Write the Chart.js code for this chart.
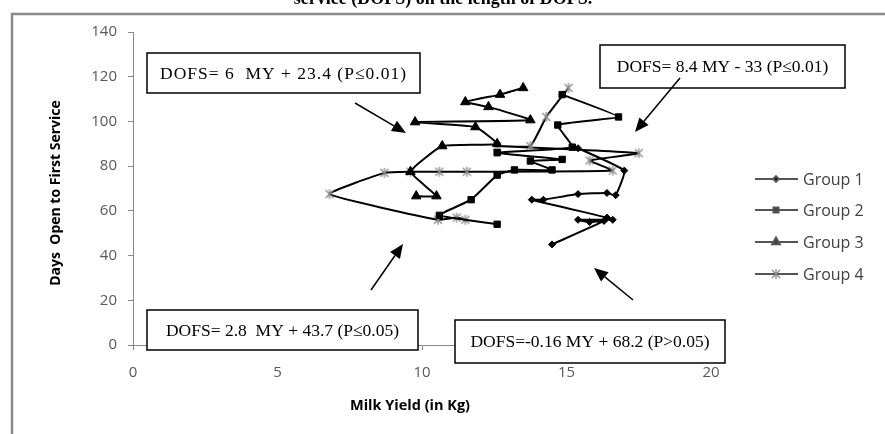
<!DOCTYPE html>
<html>
<head>
<meta charset="utf-8">
<script src="https://cdn.jsdelivr.net/npm/chart.js@4"></script>
<style>
  body { margin: 0; background: #fff; }
  canvas { display: block; }
</style>
</head>
<body>
<canvas id="dofsChart" width="885" height="434"></canvas>
<script>
// values (milk yield in kg, days open to first service)
const group1X = [15.4, 17.0, 16.7, 16.4, 15.4, 14.2, 13.8, 16.4, 16.6, 15.4, 15.8, 16.3, 14.5];
const group1Y = [88, 78, 67, 68, 67.5, 65, 65, 57, 56, 56, 55, 55.5, 45];
const group2X = [14.85, 16.8, 14.7, 15.2, 12.6, 14.85, 13.75, 14.5, 13.2, 12.6, 11.7, 10.6, 12.6];
const group2Y = [112, 102, 98.4, 88.5, 86, 83, 82.3, 78.3, 78.3, 76, 65, 58, 54];
const group3X = [13.5, 12.7, 11.5, 12.3, 13.75, 9.76, 11.85, 12.6, 10.7, 9.6, 10.5, 9.8];
const group3Y = [115, 112, 108.7, 106.5, 100.6, 99.7, 97.5, 90, 89, 77.5, 66.6, 66.6];
const group4X = [15.07, 14.3, 13.75, 12.6, 17.5, 15.8, 16.6, 11.55, 10.6, 9.6, 8.7, 6.8, 10.55, 11.2, 11.5];
const group4Y = [115, 102, 89, 89, 85.8, 82.5, 78, 77.5, 77.5, 77.5, 77, 67.5, 56, 57, 56];

const groupNames = ['Group 1', 'Group 2', 'Group 3', 'Group 4'];
const xTicks = [0, 5, 10, 15, 20];
const yTicks = [0, 20, 40, 60, 80, 100, 120, 140];

const equations = [
  'DOFS= 6  MY + 23.4 (P\u22640.01)',
  'DOFS= 8.4 MY - 33 (P\u22640.01)',
  'DOFS= 2.8  MY + 43.7 (P\u22640.05)',
  'DOFS=-0.16 MY + 68.2 (P>0.05)'
];

function toPoints(xs, ys) {
  return xs.map((x, i) => ({ x: x, y: ys[i] }));
}

// asterisk marker like the Excel one
function makeAsterisk() {
  const c = document.createElement('canvas');
  c.width = 12; c.height = 12;
  const g = c.getContext('2d');
  g.strokeStyle = '#8c8c8c';
  g.lineWidth = 1.3;
  g.beginPath();
  g.moveTo(2, 2); g.lineTo(10, 10);
  g.moveTo(10, 2); g.lineTo(2, 10);
  g.moveTo(6, 1); g.lineTo(6, 11);
  g.stroke();
  return c;
}
const asterisk = makeAsterisk();

const styles = [
  { pointStyle: 'rectRot', radius: 3.5 },
  { pointStyle: 'rect', radius: 4.5 },
  { pointStyle: 'triangle', radius: 5.5 },
  { pointStyle: asterisk, radius: 6 }
];

const series = [
  toPoints(group1X, group1Y),
  toPoints(group2X, group2Y),
  toPoints(group3X, group3Y),
  toPoints(group4X, group4Y)
];

const datasets = series.map((pts, i) => ({
  label: groupNames[i],
  data: pts,
  showLine: true,
  borderColor: '#000',
  backgroundColor: '#000',
  borderWidth: 2,
  tension: 0.12,
  pointStyle: styles[i].pointStyle,
  pointRadius: styles[i].radius,
  pointBorderWidth: 1,
  pointBorderColor: '#000',
  pointBackgroundColor: '#000'
}));

function drawArrow(ctx, x1, y1, x2, y2) {
  const ang = Math.atan2(y2 - y1, x2 - x1);
  const len = 14, wid = 6;
  ctx.strokeStyle = '#000';
  ctx.lineWidth = 1.5;
  ctx.beginPath();
  ctx.moveTo(x1, y1);
  ctx.lineTo(x2 - Math.cos(ang) * len, y2 - Math.sin(ang) * len);
  ctx.stroke();
  ctx.fillStyle = '#000';
  ctx.beginPath();
  ctx.moveTo(x2, y2);
  ctx.lineTo(x2 - Math.cos(ang) * len + Math.sin(ang) * wid, y2 - Math.sin(ang) * len - Math.cos(ang) * wid);
  ctx.lineTo(x2 - Math.cos(ang) * len - Math.sin(ang) * wid, y2 - Math.sin(ang) * len + Math.cos(ang) * wid);
  ctx.closePath();
  ctx.fill();
}

const extras = {
  id: 'extras',
  afterDraw(chart) {
    const ctx = chart.ctx;
    ctx.save();

    // outer frame (chart area border of the original)
    ctx.strokeStyle = '#8a8a8a';
    ctx.lineWidth = 2.5;
    ctx.beginPath();
    ctx.moveTo(12, 440);
    ctx.lineTo(12, 14);
    ctx.lineTo(890, 14);
    ctx.stroke();

    // cut-off caption at the top
    ctx.fillStyle = '#000';
    ctx.font = 'bold 18px "Liberation Serif"';
    ctx.textAlign = 'center';
    ctx.textBaseline = 'alphabetic';
    ctx.fillText('service (DOFS) on the length of DOFS.', 443, 4);

    // axis titles
    ctx.fillStyle = '#000';
    ctx.font = 'bold 14.5px "Open Sans"';
    ctx.fillText('Milk Yield (in Kg)', 410, 410);
    ctx.save();
    ctx.translate(56, 193);
    ctx.rotate(-Math.PI / 2);
    ctx.textBaseline = 'middle';
    ctx.font = 'bold 14px "Open Sans"';
    ctx.fillText('Days  Open to First Service', 0, 0);
    ctx.restore();

    // legend
    ctx.textAlign = 'left';
    ctx.textBaseline = 'middle';
    ctx.font = '16px "Open Sans"';
    const legY = [179, 210, 242, 274];
    groupNames.forEach((name, i) => {
      const y = legY[i];
      ctx.strokeStyle = '#555';
      ctx.lineWidth = 2;
      ctx.beginPath();
      ctx.moveTo(755, y);
      ctx.lineTo(798, y);
      ctx.stroke();
      Chart.helpers.drawPoint(ctx, {
        pointStyle: styles[i].pointStyle,
        radius: i === 3 ? 6 : styles[i].radius * 0.8,
        borderWidth: 1
      }, 776, y);
      ctx.fillStyle = '#404040';
      ctx.fillText(name, 803, y + 1);
    });

    // equation boxes
    const boxes = [
      [147, 53, 273, 40],
      [600, 45, 245, 43],
      [147, 310, 271, 40],
      [455, 320, 270, 43]
    ];
    ctx.font = '17.5px "Liberation Serif"';
    boxes.forEach((b, i) => {
      ctx.fillStyle = '#fff';
      ctx.fillRect(b[0], b[1], b[2], b[3]);
      ctx.strokeStyle = '#000';
      ctx.lineWidth = 1.5;
      ctx.strokeRect(b[0], b[1], b[2], b[3]);
      ctx.fillStyle = '#000';
      ctx.textAlign = 'center';
      ctx.letterSpacing = i === 0 ? '1px' : '0px';
      ctx.fillText(equations[i], b[0] + b[2] / 2, b[1] + b[3] / 2 + 1);
    });
    ctx.letterSpacing = '0px';

    // arrows pointing at the groups
    drawArrow(ctx, 355, 103, 406, 133);
    drawArrow(ctx, 680, 78, 635, 132);
    drawArrow(ctx, 371, 290, 403, 244);
    drawArrow(ctx, 633, 300, 594, 268);

    ctx.restore();
  }
};

new Chart(document.getElementById('dofsChart').getContext('2d'), {
  type: 'scatter',
  data: { datasets: datasets },
  plugins: [extras],
  options: {
    responsive: false,
    devicePixelRatio: 1,
    animation: false,
    layout: { padding: { top: 32, right: 174, left: 0, bottom: 0 } },
    plugins: {
      legend: { display: false },
      tooltip: { enabled: false }
    },
    scales: {
      x: {
        type: 'linear',
        min: 0,
        max: 20,
        afterBuildTicks: s => { s.ticks = xTicks.map(v => ({ value: v })); },
        afterFit: s => { s.height = 89; },
        grid: { drawOnChartArea: false, tickLength: 5, color: '#868686' },
        border: { color: '#868686', width: 1 },
        ticks: { color: '#595959', font: { size: 15, family: 'Open Sans' }, padding: 14, maxRotation: 0 }
      },
      y: {
        min: 0,
        max: 140,
        afterBuildTicks: s => { s.ticks = yTicks.map(v => ({ value: v })); },
        afterFit: s => { s.width = 133; },
        grid: { drawOnChartArea: false, tickLength: 5, color: '#868686' },
        border: { color: '#868686', width: 1 },
        ticks: { color: '#595959', font: { size: 15, family: 'Open Sans' }, padding: 11 }
      }
    }
  }
});
</script>
</body>
</html>
